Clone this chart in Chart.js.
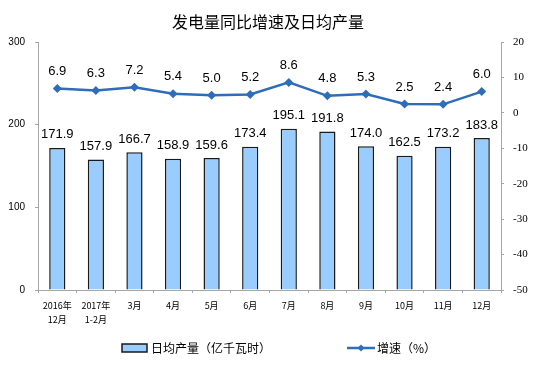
<!DOCTYPE html>
<html><head><meta charset="utf-8">
<script src="https://cdn.jsdelivr.net/npm/chart.js@4/dist/chart.umd.min.js"></script>
<style>html,body{margin:0;padding:0;background:#fff}canvas{display:block}</style>
</head><body>
<canvas id="c" width="554" height="381"></canvas>
<script>
const categories = [["2016年","12月"],["2017年","1-2月"],"3月","4月","5月","6月","7月","8月","9月","10月","11月","12月"];
const dailyOutput = [171.9,157.9,166.7,158.9,159.6,173.4,195.1,191.8,174.0,162.5,173.2,183.8];
const growthRate = [6.9,6.3,7.2,5.4,5.0,5.2,8.6,4.8,5.3,2.5,2.4,6.0];
const leftTicks = [0,100,200,300];
const rightTicks = [-50,-40,-30,-20,-10,0,10,20];
const titleText = "发电量同比增速及日均产量";
const barLegend = "日均产量（亿千瓦时）";
const lineLegend = "增速（%）";

const BAR_FILL = "#99CCFF", BAR_BORDER = "#1a1a1a", LINE = "#2E6DB8", AXIS = "#A6A6A6";
const CJK = "'Noto Sans CJK SC', 'Liberation Sans', sans-serif";

const labelsPlugin = {
  id: "labelsPlugin",
  afterDatasetsDraw(chart) {
    const ctx = chart.ctx;
    ctx.save();
    ctx.font = "13px 'Liberation Sans', Arial, sans-serif";
    ctx.fillStyle = "#000";
    ctx.textAlign = "center";
    ctx.textBaseline = "middle";
    const barMeta = chart.getDatasetMeta(0);
    barMeta.data.forEach((el, i) => {
      ctx.fillText(dailyOutput[i].toFixed(1), el.x, el.y - 13);
    });
    const lineMeta = chart.getDatasetMeta(1);
    lineMeta.data.forEach((el, i) => {
      ctx.fillText(growthRate[i].toFixed(1), el.x, el.y - 17);
    });
    ctx.restore();
  },
  afterDraw(chart) {
    const ctx = chart.ctx;
    ctx.save();
    ctx.font = "16px " + CJK;
    ctx.fillStyle = "#000";
    ctx.textAlign = "center";
    ctx.textBaseline = "middle";
    ctx.fillText(titleText, 268, 22);
    const ly = 348;
    ctx.font = "12px " + CJK;
    ctx.textAlign = "left";
    ctx.fillStyle = BAR_FILL;
    ctx.fillRect(122, ly - 4, 25, 8);
    ctx.strokeStyle = BAR_BORDER;
    ctx.lineWidth = 1.5;
    ctx.strokeRect(122, ly - 4, 25, 8);
    ctx.fillStyle = "#000";
    ctx.fillText(barLegend, 151, ly);
    ctx.strokeStyle = LINE;
    ctx.lineWidth = 2.5;
    ctx.beginPath(); ctx.moveTo(347, ly); ctx.lineTo(375, ly); ctx.stroke();
    ctx.fillStyle = LINE;
    ctx.beginPath(); ctx.moveTo(361, ly - 3.5); ctx.lineTo(364.5, ly); ctx.lineTo(361, ly + 3.5); ctx.lineTo(357.5, ly); ctx.closePath(); ctx.fill();
    ctx.fillStyle = "#000";
    ctx.fillText(lineLegend, 377, ly);
    ctx.restore();
  }
};

new Chart(document.getElementById("c"), {
  data: {
    labels: categories,
    datasets: [
      {
        type: "bar", label: barLegend, data: dailyOutput, yAxisID: "y",
        backgroundColor: BAR_FILL, borderColor: BAR_BORDER, borderWidth: 1.5,
        categoryPercentage: 1, barPercentage: 0.42, order: 2
      },
      {
        type: "line", label: lineLegend, data: growthRate, yAxisID: "y1",
        borderColor: LINE, backgroundColor: LINE, borderWidth: 2.5,
        pointStyle: "rectRot", pointRadius: 4.5, pointHoverRadius: 4.5,
        pointBackgroundColor: LINE, pointBorderColor: LINE, pointBorderWidth: 0,
        tension: 0, order: 1
      }
    ]
  },
  options: {
    responsive: false, animation: false,
    layout: { padding: { top: 42, left: 0, right: 0, bottom: 0 } },
    plugins: { legend: { display: false }, title: { display: false }, tooltip: { enabled: false } },
    scales: {
      x: {
        offset: true,
        grid: { display: true, drawOnChartArea: false, offset: true, tickLength: 3, color: AXIS },
        border: { color: AXIS, width: 1 },
        ticks: { font: { size: 9, family: CJK, lineHeight: 1.6 }, color: "#000", maxRotation: 0, autoSkip: false, padding: 5 },
        afterFit(s) { s.height = 91; }
      },
      y: {
        position: "left", min: 0, max: 300,
        afterBuildTicks(s) { s.ticks = leftTicks.map(v => ({ value: v })); },
        grid: { display: true, drawOnChartArea: false, tickLength: 3, color: AXIS },
        border: { color: AXIS, width: 1 },
        ticks: { font: { size: 10, family: "'Liberation Sans', Arial, sans-serif" }, color: "#000", padding: 10 },
        afterFit(s) { s.width = 38; }
      },
      y1: {
        position: "right", min: -50, max: 20,
        afterBuildTicks(s) { s.ticks = rightTicks.map(v => ({ value: v })); },
        grid: { display: true, drawOnChartArea: false, tickLength: 3, color: AXIS },
        border: { color: AXIS, width: 1 },
        ticks: { font: { size: 11, family: "'Liberation Serif', 'Times New Roman', serif" }, color: "#000", padding: 9 },
        afterFit(s) { s.width = 53; }
      }
    }
  },
  plugins: [labelsPlugin]
});
</script>
</body></html>
